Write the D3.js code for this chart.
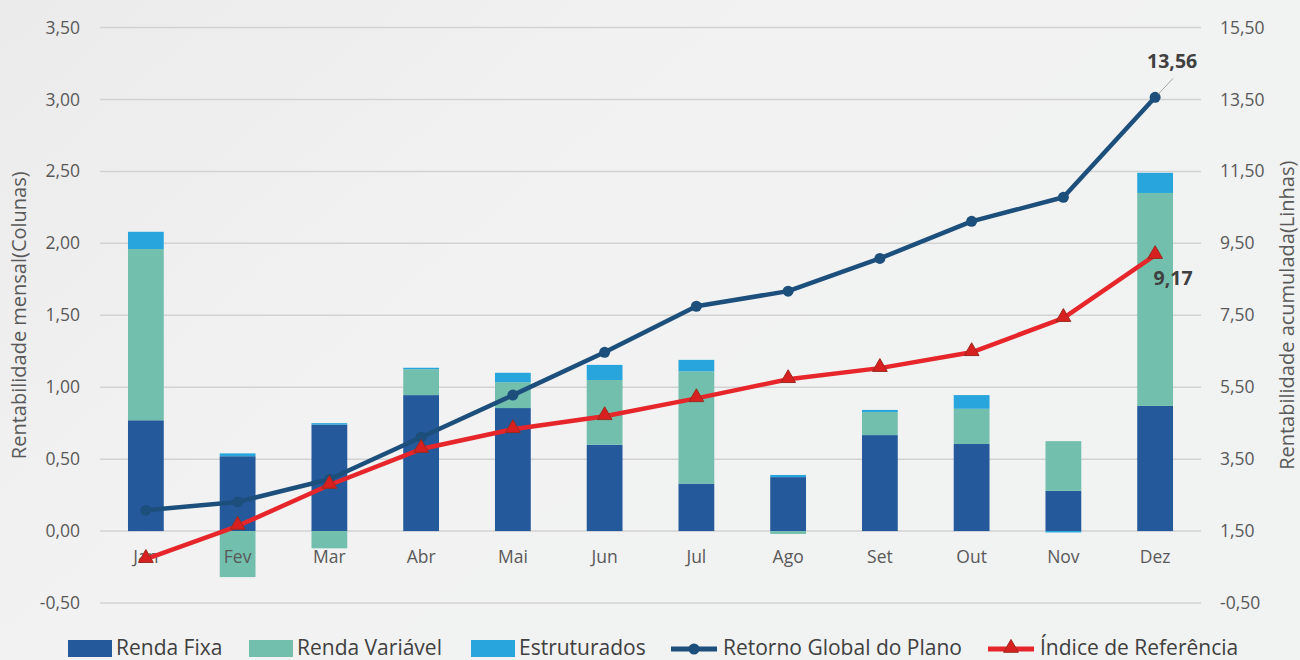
<!DOCTYPE html>
<html>
<head>
<meta charset="utf-8">
<script src="https://cdn.jsdelivr.net/npm/d3@7"></script>
<style>
  html, body { margin: 0; padding: 0; background: #efefef; }
  svg { display: block; font-family: "Open Sans", sans-serif; }
</style>
</head>
<body>
<svg id="chart"></svg>
<script>
// Chart data
const months = ["Jan", "Fev", "Mar", "Abr", "Mai", "Jun", "Jul", "Ago", "Set", "Out", "Nov", "Dez"];
const rendaFixa = [0.77, 0.52, 0.74, 0.945, 0.855, 0.60, 0.33, 0.375, 0.667, 0.605, 0.28, 0.87];
const rendaVariavel = [1.19, -0.32, -0.12, 0.18, 0.18, 0.45, 0.78, -0.02, 0.16, 0.245, 0.345, 1.48];
const estruturados = [0.12, 0.02, 0.01, 0.01, 0.065, 0.105, 0.08, 0.015, 0.015, 0.095, -0.01, 0.14];
const retornoGlobal = [2.08, 2.31, 2.94, 4.11, 5.28, 6.47, 7.75, 8.17, 9.08, 10.11, 10.78, 13.56];
const indiceReferencia = [0.72, 1.64, 2.78, 3.78, 4.33, 4.69, 5.19, 5.72, 6.03, 6.47, 7.42, 9.17];
const leftTicks = [-0.5, 0, 0.5, 1, 1.5, 2, 2.5, 3, 3.5];
const rightTicks = [-0.5, 1.5, 3.5, 5.5, 7.5, 9.5, 11.5, 13.5, 15.5];

const width = 1300;
const height = 660;
const plot = { left: 100, right: 1201, top: 27.5, bottom: 603 };

const svg = d3.select("#chart")
    .attr("width", width)
    .attr("height", height);

// Background with a soft gradient
const defs = svg.append("defs");
const grad = defs.append("linearGradient")
    .attr("id", "bg")
    .attr("x1", "0%").attr("y1", "0%")
    .attr("x2", "100%").attr("y2", "60%");
grad.append("stop").attr("offset", "0%").attr("stop-color", "#ebebeb");
grad.append("stop").attr("offset", "45%").attr("stop-color", "#f2f2f2");
grad.append("stop").attr("offset", "100%").attr("stop-color", "#f1f2f2");
svg.append("rect")
    .attr("width", width)
    .attr("height", height)
    .attr("fill", "url(#bg)");

// Brazilian number format, plain hyphen for negatives
const ptBR = d3.formatLocale({ decimal: ",", thousands: ".", grouping: [3], currency: ["R$", ""], minus: "-" });
const fmt = ptBR.format(".2f");

// Scales
const x = d3.scaleBand()
    .domain(months)
    .range([plot.left, plot.right])
    .padding(0);
const barWidth = x.bandwidth() * 0.39;

const yLeft = d3.scaleLinear()
    .domain([-0.5, 3.5])
    .range([plot.bottom, plot.top]);

const yRight = d3.scaleLinear()
    .domain([-0.5, 15.5])
    .range([plot.bottom, plot.top]);

// Gridlines
svg.append("g")
    .selectAll("line")
    .data(leftTicks)
    .enter()
    .append("line")
    .attr("x1", plot.left)
    .attr("x2", plot.right)
    .attr("y1", d => yLeft(d))
    .attr("y2", d => yLeft(d))
    .attr("stroke", "#d2d2d2")
    .attr("stroke-width", 1.5);

// Left axis
const leftAxis = svg.append("g")
    .attr("transform", `translate(${plot.left - 20},0)`)
    .call(d3.axisLeft(yLeft).tickValues(leftTicks).tickFormat(fmt).tickSize(0).tickPadding(0));
leftAxis.select(".domain").remove();
leftAxis.selectAll("text")
    .style("font-size", "17.5px")
    .style("fill", "#595959")
    .style("font-family", "'Open Sans', sans-serif");

// Right axis
const rightAxis = svg.append("g")
    .attr("transform", `translate(${plot.right + 19},0)`)
    .call(d3.axisRight(yRight).tickValues(rightTicks).tickFormat(fmt).tickSize(0).tickPadding(0));
rightAxis.select(".domain").remove();
rightAxis.selectAll("text")
    .style("font-size", "17.5px")
    .style("fill", "#595959")
    .style("font-family", "'Open Sans', sans-serif");

// Axis titles
svg.append("text")
    .attr("transform", `translate(26,${(plot.top + plot.bottom) / 2}) rotate(-90)`)
    .attr("text-anchor", "middle")
    .style("font-size", "20px")
    .style("fill", "#595959")
    .text("Rentabilidade mensal(Colunas)");

svg.append("text")
    .attr("transform", `translate(1294,${(plot.top + plot.bottom) / 2}) rotate(-90)`)
    .attr("text-anchor", "middle")
    .style("font-size", "20px")
    .style("fill", "#595959")
    .text("Rentabilidade acumulada(Linhas)");

// Stacked bars
const barKeys = ["Renda Fixa", "Renda Variável", "Estruturados"];
const barColors = { "Renda Fixa": "#24599b", "Renda Variável": "#72bfad", "Estruturados": "#27a5dc" };
const barRows = months.map((m, i) => ({
    month: m,
    "Renda Fixa": rendaFixa[i],
    "Renda Variável": rendaVariavel[i],
    "Estruturados": estruturados[i]
}));

const stacked = d3.stack()
    .keys(barKeys)
    .offset(d3.stackOffsetDiverging)(barRows);

svg.append("g")
    .selectAll("g")
    .data(stacked)
    .enter()
    .append("g")
    .attr("fill", d => barColors[d.key])
    .selectAll("rect")
    .data(d => d)
    .enter()
    .append("rect")
    .attr("x", d => x(d.data.month) + (x.bandwidth() - barWidth) / 2)
    .attr("width", barWidth)
    .attr("y", d => yLeft(Math.max(d[0], d[1])))
    .attr("height", d => Math.abs(yLeft(d[0]) - yLeft(d[1])));

// Month labels
svg.append("g")
    .selectAll("text")
    .data(months)
    .enter()
    .append("text")
    .attr("x", d => x(d) + x.bandwidth() / 2)
    .attr("y", yLeft(0) + 32)
    .attr("text-anchor", "middle")
    .style("font-size", "17.5px")
    .style("fill", "#595959")
    .text(d => d);

// Lines
const cx = (d, i) => x(months[i]) + x.bandwidth() / 2;
const line = d3.line()
    .x(cx)
    .y(d => yRight(d));

svg.append("path")
    .datum(retornoGlobal)
    .attr("d", line)
    .attr("fill", "none")
    .attr("stroke", "#1d4f7c")
    .attr("stroke-width", 4.5)
    .attr("stroke-linejoin", "round");

svg.append("g")
    .selectAll("circle")
    .data(retornoGlobal)
    .enter()
    .append("circle")
    .attr("cx", cx)
    .attr("cy", d => yRight(d))
    .attr("r", 5.5)
    .attr("fill", "#1d4f7c");

svg.append("path")
    .datum(indiceReferencia)
    .attr("d", line)
    .attr("fill", "none")
    .attr("stroke", "#e6262b")
    .attr("stroke-width", 4.5)
    .attr("stroke-linejoin", "round");

const tri = d3.symbol().type(d3.symbolTriangle).size(95);
svg.append("g")
    .selectAll("path")
    .data(indiceReferencia)
    .enter()
    .append("path")
    .attr("d", tri)
    .attr("transform", (d, i) => `translate(${cx(d, i)},${yRight(d) - 1})`)
    .attr("fill", "#d7201f")
    .attr("stroke", "#9c2a1e")
    .attr("stroke-width", 1);

// End labels
const last = months.length - 1;
const gx = cx(null, last);
const gy = yRight(retornoGlobal[last]);
svg.append("line")
    .attr("x1", gx + 3)
    .attr("y1", gy - 3)
    .attr("x2", gx + 18)
    .attr("y2", gy - 19)
    .attr("stroke", "#a6a6a6")
    .attr("stroke-width", 1);

svg.append("text")
    .attr("x", gx + 17)
    .attr("y", gy - 29)
    .attr("text-anchor", "middle")
    .style("font-size", "19.5px")
    .style("font-weight", "bold")
    .style("fill", "#404040")
    .text(fmt(retornoGlobal[last]));

const iy = yRight(indiceReferencia[last]);
svg.append("text")
    .attr("x", gx + 18)
    .attr("y", iy + 30)
    .attr("text-anchor", "middle")
    .style("font-size", "19.5px")
    .style("font-weight", "bold")
    .style("fill", "#404040")
    .text(fmt(indiceReferencia[last]));

// Legend
const legendY = 647;
const legendItems = [
    { name: "Renda Fixa", type: "rect", color: barColors["Renda Fixa"], x: 68 },
    { name: "Renda Variável", type: "rect", color: barColors["Renda Variável"], x: 249 },
    { name: "Estruturados", type: "rect", color: barColors["Estruturados"], x: 471 },
    { name: "Retorno Global do Plano", type: "circle", color: "#1d4f7c", x: 671 },
    { name: "Índice de Referência", type: "triangle", color: "#e6262b", x: 988 }
];

const legend = svg.append("g");
const items = legend.selectAll("g")
    .data(legendItems)
    .enter()
    .append("g")
    .attr("transform", d => `translate(${d.x},${legendY})`);

items.filter(d => d.type === "rect")
    .append("rect")
    .attr("x", 0)
    .attr("y", -7)
    .attr("width", 44)
    .attr("height", 17)
    .attr("fill", d => d.color);

items.filter(d => d.type !== "rect")
    .append("line")
    .attr("x1", 0)
    .attr("x2", 46)
    .attr("y1", 2)
    .attr("y2", 2)
    .attr("stroke", d => d.color)
    .attr("stroke-width", 5);

items.filter(d => d.type === "circle")
    .append("circle")
    .attr("cx", 23)
    .attr("cy", 2)
    .attr("r", 5.5)
    .attr("fill", d => d.color);

items.filter(d => d.type === "triangle")
    .append("path")
    .attr("d", tri)
    .attr("transform", "translate(23,1)")
    .attr("fill", "#d7201f")
    .attr("stroke", "#9c2a1e");

items.append("text")
    .attr("x", d => d.type === "rect" ? 48 : 52)
    .attr("y", 8)
    .style("font-size", "21px")
    .style("fill", "#404040")
    .text(d => d.name);
</script>
</body>
</html>
